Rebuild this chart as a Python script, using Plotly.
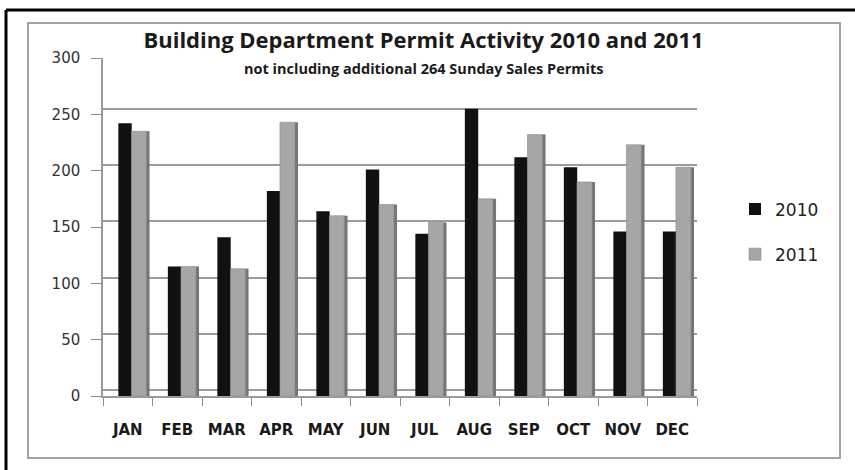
import plotly.graph_objects as go

# Monthly permit counts
months = ["JAN", "FEB", "MAR", "APR", "MAY", "JUN", "JUL", "AUG", "SEP", "OCT", "NOV", "DEC"]
permits_2010 = [242, 115, 141, 182, 164, 201, 144, 255, 212, 203, 146, 146]
permits_2011 = [235, 115, 113, 243, 160, 170, 154, 175, 232, 190, 223, 203]
y_ticks = [0, 50, 100, 150, 200, 250, 300]

# plot-area geometry (pixels) used to place paper-referenced decorations
W, H = 855, 470
L, R, T, B = 103, 158, 58, 74
PW, PH = W - L - R, H - T - B


def px_x(p):
    return (p - L) / PW


def px_y(p):
    return (H - B - p) / PH


BLACK = "#111111"
GRAY = "#a6a6a6"
GRAY_SIDE = "#767676"

fig = go.Figure()

# darker side face of the 2011 columns (gives the columns some depth)
fig.add_trace(go.Bar(
    x=months, y=permits_2011, offset=0.37, width=0.07,
    marker=dict(color=GRAY_SIDE, line=dict(width=0)),
    showlegend=False, hoverinfo="skip",
))
fig.add_trace(go.Bar(
    x=months, y=permits_2010, name="2010", offset=-0.19, width=0.27,
    marker=dict(color=BLACK, line=dict(width=0)),
    legendgroup="a",
))
fig.add_trace(go.Bar(
    x=months, y=permits_2011, name="2011", offset=0.075, width=0.3,
    marker=dict(color=GRAY, line=dict(color="#8a8a8a", width=0.6)),
    legendgroup="b",
))

fig.update_layout(
    width=W, height=H,
    margin=dict(l=L, r=R, t=T, b=B, pad=0),
    paper_bgcolor="white", plot_bgcolor="white",
    barmode="overlay",
    title=dict(
        text="<b>Building Department Permit Activity 2010 and 2011</b>",
        font=dict(family="Open Sans", size=22, color="#1a1a1a"),
        x=px_x(423.5), xref="paper", xanchor="center",
        y=1 - 40 / H, yref="container", yanchor="middle",
    ),
    showlegend=True,
    legend=dict(
        x=px_x(735), xanchor="left", y=px_y(232), yanchor="middle",
        font=dict(family="DejaVu Sans", size=17, color="#222222"),
        traceorder="grouped", tracegroupgap=20,
        bgcolor="rgba(0,0,0,0)", borderwidth=0,
    ),
    xaxis=dict(
        type="category", categoryorder="array", categoryarray=months,
        tickson="boundaries", ticks="outside", ticklen=8, tickcolor="#8c8c8c",
        showline=True, linecolor="#9a9a9a", linewidth=1.5,
        showgrid=False, zeroline=False, tickangle=0,
        tickfont=dict(family="DejaVu Sans", size=15, color="#1a1a1a", weight="bold"),
        ticklabelstandoff=19,
    ),
    yaxis=dict(
        range=[0, 300], tickvals=y_ticks,
        ticks="outside", ticklen=10, tickcolor="#8c8c8c",
        showline=True, linecolor="#9a9a9a", linewidth=1.5,
        showgrid=False, zeroline=False,
        tickfont=dict(family="DejaVu Sans", size=15, color="#333333"),
        ticklabelstandoff=8,
    ),
    # back-wall gridlines sit slightly higher than the front value ticks
    yaxis2=dict(
        overlaying="y", anchor="x", range=[-5, 295], tickvals=y_ticks,
        showticklabels=False, ticks="", showline=False, zeroline=False,
        showgrid=True, gridcolor="#9c9c9c", gridwidth=2,
    ),
    annotations=[dict(
        text="<b>not including additional 264 Sunday Sales Permits</b>",
        xref="paper", yref="paper", x=px_x(424.5), y=px_y(68),
        xanchor="center", yanchor="middle", showarrow=False,
        font=dict(family="Open Sans", size=14.5, color="#1a1a1a"),
    )],
    shapes=[
        # outer black frame (left and top edges)
        dict(type="line", xref="paper", yref="paper",
             x0=px_x(6), x1=px_x(6), y0=px_y(10), y1=px_y(H + 5),
             line=dict(color="black", width=3)),
        dict(type="line", xref="paper", yref="paper",
             x0=px_x(6), x1=px_x(W + 5), y0=px_y(10), y1=px_y(10),
             line=dict(color="black", width=3)),
        # grey chart-area border
        dict(type="rect", xref="paper", yref="paper",
             x0=px_x(28), x1=px_x(840), y0=px_y(23), y1=px_y(458),
             line=dict(color="#a3a3a3", width=2), layer="below"),
    ],
)

# attach an invisible trace so the gridline axis is rendered
fig.add_trace(go.Scatter(x=months, y=permits_2011, yaxis="y2", mode="none",
                         showlegend=False, hoverinfo="skip"))

fig.write_html("out.html")
